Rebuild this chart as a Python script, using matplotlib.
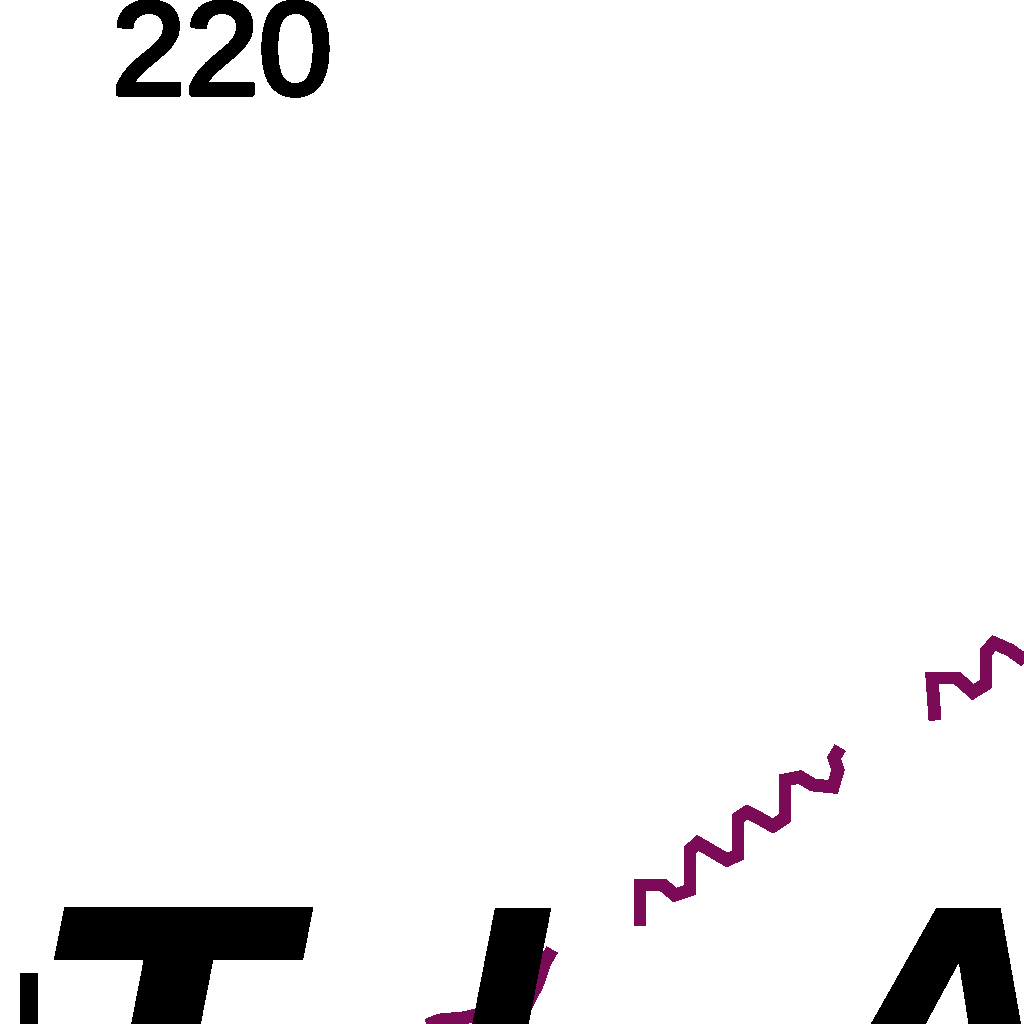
import matplotlib.pyplot as plt
import matplotlib.patheffects as pe
import numpy as np

plt.rcParams['text.antialiased'] = False

# purple trace (x to the right, y downwards), NaN = gap
trace_x = [415, 440, 463, 500, 528, 537, 545, 552, np.nan,
           640, 640, 663, 675, 690, 690, 698, 710, 727, 738, 738, 747, 757, 773, 785, 785, 800, 813, 833, 838, 834, 840, np.nan,
           935, 932, 957, 973, 986, 986, 994, 1010, 1024, 1034]
trace_y = [1030, 1020, 1018, 1010, 1002, 985, 962, 950, np.nan,
           926, 885, 885, 895, 890, 850, 843, 850, 860, 855, 818, 812, 817, 826, 818, 780, 777, 785, 787, 770, 758, 748, np.nan,
           720, 678, 678, 692, 684, 652, 643, 650, 660, 668]

tick_label = '220'
big_letters = ['T', 'I', 'A']
letter_x = [36, 446, 832]
letter_base = [1178, 1127, 1127]
letter_size = [267, 216, 216]

fig = plt.figure(figsize=(10.24, 10.24), dpi=100)
ax = fig.add_axes([0, 0, 1, 1])
ax.set_xlim(0, 1024)
ax.set_ylim(1024, 0)
ax.axis('off')

ax.plot(trace_x, trace_y, color='#7b0a57', lw=8.6, antialiased=False,
        solid_joinstyle='miter', solid_capstyle='butt', zorder=2)

ax.text(112, 94, tick_label, fontsize=95, family='Liberation Sans',
        ha='left', va='baseline', color='black', zorder=3,
        path_effects=[pe.withStroke(linewidth=3, foreground='black')])

for ch, x, yb, fs in zip(big_letters, letter_x, letter_base, letter_size):
    ax.text(x, yb, ch, fontsize=fs, family='DejaVu Sans', weight='bold',
            style='oblique', ha='left', va='baseline', color='black',
            zorder=3, clip_on=False)

# thin stroke at the lower left edge
ax.text(1, 1125, 'l', fontsize=144, family='DejaVu Sans', ha='left',
        va='baseline', color='black', zorder=3, clip_on=False)

plt.savefig('out.png', dpi=100, facecolor='white')
